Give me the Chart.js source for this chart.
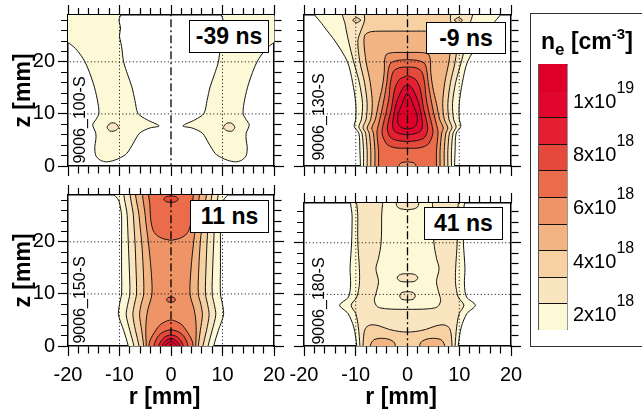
<!DOCTYPE html>
<html lang="en">
<head>
<meta charset="utf-8">
<title>Electron density n_e(r, z)</title>
<script src="https://cdn.jsdelivr.net/npm/chart.js@4.4.1/dist/chart.umd.min.js"></script>
<style>
  html, body { margin: 0; padding: 0; background: #fff; }
  body { width: 642px; height: 413px; position: relative; overflow: hidden;
         font-family: 'Liberation Sans', Arial, Helvetica, sans-serif; color: #000; }
  canvas { position: absolute; left: 0; top: 0; }
  .tag { position: absolute; background: #fff; border: 1.5px solid #000; box-sizing: border-box;
         font-weight: bold; font-size: 23px; display: flex; align-items: center; justify-content: center; }
  .shot { position: absolute; font-size: 16px; line-height: 1; white-space: nowrap;
          transform: translate(-50%, -50%) rotate(-90deg); }
  #legend { position: absolute; left: 530px; top: 13px; width: 130px; height: 334px;
            border: 1.5px solid #333; box-sizing: border-box; }
  #legendTitle { position: absolute; left: 541px; top: 30px; font-weight: bold; font-size: 23px;
                 line-height: 23px; white-space: nowrap; }
  #bar { position: absolute; left: 538px; top: 64px; width: 30px; height: 266px;
         border: 1px solid #555; border-right-color: #999; box-sizing: border-box; }
  .cell { position: absolute; left: 0; width: 100%; box-sizing: border-box; }
  .blab { position: absolute; left: 573px; font-size: 20px; line-height: 20px; white-space: nowrap; }
  .blab sup { font-size: 16px; line-height: 0; vertical-align: 15px; }
</style>
</head>
<body>
<canvas id="pTL" width="642" height="413"></canvas>
<canvas id="pTR" width="642" height="413"></canvas>
<canvas id="pBL" width="642" height="413"></canvas>
<canvas id="pBR" width="642" height="413"></canvas>

<div class="shot" style="left:79.5px;top:120px">9006_100-S</div>
<div class="shot" style="left:319px;top:117px">9006_130-S</div>
<div class="shot" style="left:79.5px;top:300px">9006_150-S</div>
<div class="shot" style="left:319px;top:301px">9006_180-S</div>

<div class="tag" style="left:189px;top:20px;width:80px;height:33px">-39 ns</div>
<div class="tag" style="left:426px;top:22px;width:80px;height:32px">-9 ns</div>
<div class="tag" style="left:190px;top:200px;width:79px;height:33px">11 ns</div>
<div class="tag" style="left:424px;top:207px;width:79px;height:33px">41 ns</div>

<div id="legend"></div>
<div id="legendTitle">n<sub style="font-size:17px;line-height:0;vertical-align:-6px">e</sub> [cm<sup style="font-size:15px;line-height:0;vertical-align:10px">-3</sup>]</div>
<div id="bar"></div>

<script>
// ---- density bands (lower edge of each band, in 10^18 cm^-3) ----
const bandEdges = [1, 2, 3, 4, 5, 6, 7, 8, 9, 10, 11];
const bandColors = ['#FDF8D5', '#F9E6C0', '#F7D1A2', '#F3B483', '#EF9467',
                    '#EA6C4B', '#E4493A', '#E31F30', '#E0062E', '#DE0029'];
// colour-bar labels: value (10^18 cm^-3), mantissa, exponent
const barLabelValues = [10, 8, 6, 4, 2];
const barMantissas  = ['1', '8', '6', '4', '2'];
const barExponents  = ['19', '18', '18', '18', '18'];

// axis tick labels
const rLabelValues = [-20, -10, 0, 10, 20];
const zLabelValues = [0, 10, 20];
// reference lines drawn over the maps
const dottedR = [-10, 10];
const dottedZ = [10, 20];
const axisR = 0;

// ---- contours: [r, z] in mm ----
// "half": right half from the axis back to the axis, mirrored to r<0
// "pair": closed outline at r>0, repeated as its mirror image at r<0

// -39 ns
const m39_lvl1 = [[9.8,31],[9.8,29],[10.1,28],[9.8,26.5],[10.0,25],[9.6,23],[9.2,20],[8.4,17.5],[7.6,15.2],[7.0,12.6],[6.4,10.1],[4.7,8.9],[2.3,7.7],[4.1,7.3],[6.1,6.3],[7.3,4.4],[8.6,2.4],[9.8,1.6],[11.0,1.1],[12.5,0.8],[13.7,1.1],[14.6,2.0],[14.8,3.7],[14.6,5.0],[14.6,6.3],[15.2,7.9],[14.6,8.9],[14.0,10.1],[14.3,12.7],[15.1,15.9],[16.7,20],[18.5,22.5],[20.2,23.8],[21.5,24],[21.5,31]];
const m39_lvl2 = [[10.1,7.4],[10.8,6.8],[11.8,6.7],[12.4,7.4],[11.8,8.2],[10.8,8.2]];

// -9 ns
const m9_lvl1 = [[0,-1.5],[9.1,-1.5],[9.1,0],[9.2,3],[9.4,6.3],[10.3,7.6],[10.0,9],[10.0,12],[10.6,16],[11.6,20],[14.0,24],[16.3,27],[18.8,31],[0,31]];
const m9_lvl2 = [[0,-1.5],[8.5,-1.5],[8.5,0],[8.5,3],[8.8,6.3],[9.4,7.5],[8.9,9],[8.7,12],[9.3,16],[10.4,20],[11.4,24],[12.0,27],[12.6,31],[0,31]];
const m9_lvl3 = [[0,-1.5],[7.8,-1.5],[7.8,0],[7.8,3],[8.1,6.3],[8.6,7.4],[8.0,9],[7.8,12],[8.3,16],[9.2,20],[9.6,24],[9.0,26],[8.3,28],[8.2,31],[0,31]];
const m9_lvl3b = [[9.0,28.0],[9.8,27.5],[10.6,28.0],[9.8,28.5]];
const m9_lvl4 = [[0,-1.5],[7.1,-1.5],[7.1,0],[7.1,3],[7.4,6.3],[7.8,7.3],[7.1,9],[6.8,12],[7.2,16],[8.0,20],[8.4,23.5],[8.2,25.2],[7.0,25.8],[3.5,25.9],[0,25.9]];
const m9_lvl5 = [[0,-1.5],[6.3,-1.5],[6.3,0],[6.3,3],[6.6,6.3],[6.9,7.3],[6.2,9],[5.6,12],[4.9,15],[4.5,18],[4.4,20.5],[4.0,21.5],[2.5,21.8],[0,21.8]];
const m9_lvl6 = [[0,0.8],[1.1,0.65],[1.6,0.2],[1.7,-1.5],[5.6,-1.5],[5.6,0],[5.6,3],[5.9,6.5],[5.6,8],[5.1,10],[4.5,13],[4.0,16],[3.7,18.5],[3.2,19.8],[1.8,20.3],[0,20.4]];
const m9_lvl7 = [[0,3.4],[2.4,3.5],[4.0,4.2],[4.9,6.2],[4.7,8],[4.2,10],[3.6,13],[3.3,16],[2.7,18.2],[1.5,18.9],[0,19.0]];
const m9_lvl8 = [[0,4.7],[2.0,4.9],[3.3,5.5],[3.9,7],[3.6,9],[3.1,11],[2.8,13],[2.4,15],[1.6,16.6],[0.7,17.1],[0,17.3]];
const m9_lvl9 = [[0,6.0],[1.5,6.2],[2.6,6.8],[2.9,8],[2.6,10],[2.2,12],[1.4,14],[0.7,15.2],[0,15.6]];
const m9_lvl10 = [[0,7.1],[1.0,7.3],[1.7,7.9],[1.9,8.8],[1.8,10],[1.3,11.3],[0.8,12.6],[0.4,13.5],[0,14.0]];

// 11 ns
const p11_lvl1 = [[0,-1.5],[8.2,-1.5],[8.3,0],[9.2,3],[10.2,6],[10.0,8],[9.6,10],[9.6,15],[9.6,20],[9.6,25],[9.8,26.5],[10.2,28],[11.2,29.1],[13,29.6],[14,31],[0,31]];
const p11_lvl2 = [[0,-1.5],[7.1,-1.5],[7.2,0],[8.0,3],[8.7,6],[8.4,8],[8.0,10],[8.1,15],[8.3,20],[8.5,25],[8.8,31],[0,31]];
const p11_lvl3 = [[0,-1.5],[6.1,-1.5],[6.2,0],[6.9,3],[7.4,6],[7.1,8],[6.7,10],[6.8,15],[7.0,20],[7.3,25],[7.6,31],[0,31]];
const p11_lvl4 = [[0,-1.5],[5.2,-1.5],[5.3,0],[5.7,3],[6.1,6],[5.8,8],[5.3,10],[5.4,15],[5.7,20],[6.2,25],[6.6,31],[0,31]];
const p11_lvl5 = [[0,-1.5],[4.8,-1.5],[4.8,0],[4.9,3],[4.8,5],[4.5,7],[3.7,10],[3.9,15],[4.4,20],[5.0,25],[5.2,31],[0,31]];
const p11_lvl6top = [[0,20.3],[1.5,20.6],[2.8,21.3],[3.5,22.3],[3.9,24],[4.1,27],[4.2,31],[0,31]];
const p11_lvl6bot = [[0,-1.5],[4.4,-1.5],[4.3,0],[4.1,1],[3.6,2],[2.9,3.1],[2.2,4.0],[1.3,4.6],[0,5.0]];
const p11_lvl6mid = [[0,8.4],[0.6,8.5],[0.85,8.9],[0.6,9.3],[0,9.4]];
const p11_lvl7 = [[0,-1.5],[3.4,-1.5],[3.3,0],[3.0,1],[2.4,2],[1.5,2.7],[0,3.1]];
const p11_lvl7top = [[0,27.6],[0.9,27.7],[1.4,28.2],[0.9,28.7],[0,28.8]];
const p11_lvl8 = [[0,-1.5],[2.5,-1.5],[2.4,0],[1.9,1],[1.1,1.8],[0,2.1]];
const p11_lvl9 = [[0,-1.5],[1.8,-1.5],[1.7,0],[1.2,0.8],[0,1.5]];
const p11_lvl10 = [[0,-1.5],[1.2,-1.5],[1.1,0],[0.6,0.6],[0,0.9]];

// 41 ns
const p41_lvl1 = [[0,-1.5],[9.8,-1.5],[9.8,0],[10.4,3.7],[11.5,6.3],[13.1,7.9],[11.4,9.5],[11.0,12],[11.1,15],[10.8,20],[10.7,25],[10.7,31],[0,31]];
const p41_lvl2 = [[0,-1.5],[9.2,-1.5],[9.2,0],[9.5,3.7],[10.0,6.3],[10.9,7.9],[9.8,9.5],[9.3,12],[9.3,15],[9.6,20],[9.6,25],[9.6,31],[5.1,31],[5.0,25],[5.1,20],[5.6,17],[6.1,15],[5.6,12.5],[6.0,10.5],[6.4,8.8],[5.8,7.6],[4.0,7.2],[0,7.1]];
const p41_lvl2a = [[0,12.4],[1.4,12.55],[2.0,13.2],[1.4,13.85],[0,14.0]];
const p41_lvl2b = [[0,8.9],[1.1,9.05],[1.5,9.7],[1.1,10.35],[0,10.5]];
const p41_lvl2c = [[0,26.4],[1.4,26.6],[2.1,27.2],[2.3,31],[0,31]];
const p41_lvl3 = [[0,-1.5],[8.6,-1.5],[8.6,0],[8.4,2.5],[8.0,3.6],[7.0,4.1],[5.5,3.9],[3.5,3.2],[1.5,2.8],[0,2.7]];
const p41_lvl4 = [[2.3,-1],[2.5,0.6],[3.6,1.3],[5.0,1.5],[6.3,1.3],[7.0,0.6],[7.2,-1]];

// [band level, kind, outline]
const mapM39 = [[1,'pair',m39_lvl1],[2,'pair',m39_lvl2]];
const mapM9 = [[1,'half',m9_lvl1],[2,'half',m9_lvl2],[3,'half',m9_lvl3],[3,'pair',m9_lvl3b],[4,'half',m9_lvl4],
               [5,'half',m9_lvl5],[6,'half',m9_lvl6],[7,'half',m9_lvl7],[8,'half',m9_lvl8],[9,'half',m9_lvl9],[10,'half',m9_lvl10]];
const mapP11 = [[1,'half',p11_lvl1],[2,'half',p11_lvl2],[3,'half',p11_lvl3],[4,'half',p11_lvl4],[5,'half',p11_lvl5],
                [6,'half',p11_lvl6top],[6,'half',p11_lvl6bot],[6,'half',p11_lvl6mid],[7,'half',p11_lvl7],[7,'half',p11_lvl7top],
                [8,'half',p11_lvl8],[9,'half',p11_lvl9],[10,'half',p11_lvl10]];
const mapP41 = [[1,'half',p41_lvl1],[2,'half',p41_lvl2],[2,'half',p41_lvl2a],[2,'half',p41_lvl2b],[2,'half',p41_lvl2c],
                [3,'half',p41_lvl3],[4,'pair',p41_lvl4]];

// ---- helpers ----
const FONT = "'Liberation Sans', Arial, Helvetica, sans-serif";
const xy = pts => pts.map(([r, z]) => ({x: r, y: z}));
const closed = list => list.concat([list[0]]);

function outlines(kind, pts) {
  if (kind === 'half') {
    const right = xy(pts);
    const left = pts.slice(1, -1).reverse().map(([r, z]) => ({x: -r, y: z}));
    return [closed(right.concat(left))];
  }
  return [closed(xy(pts)), closed(xy(pts.map(([r, z]) => [-r, z])))];
}

function contourSets(map) {
  const sets = [];
  map.forEach(([lvl, kind, pts]) => {
    outlines(kind, pts).forEach(data => sets.push({
      data, showLine: true, fill: 'shape',
      backgroundColor: bandColors[lvl - 1], borderColor: '#151515', borderWidth: 1,
      pointRadius: 0, pointHoverRadius: 0, tension: 0.3, capBezierPoints: false,
      clip: 0, order: -lvl
    }));
  });
  return sets;
}

function guideSets() {
  const base = {showLine: true, fill: false, pointRadius: 0, borderColor: '#000', tension: 0, clip: 0, order: -100};
  const sets = [];
  dottedR.forEach(r => sets.push(Object.assign({}, base, {data: [{x: r, y: -1}, {x: r, y: 31}], borderWidth: 1, borderDash: [1, 2.5]})));
  dottedZ.forEach(z => sets.push(Object.assign({}, base, {data: [{x: -21, y: z}, {x: 21, y: z}], borderWidth: 1, borderDash: [1, 2.5]})));
  sets.push(Object.assign({}, base, {data: [{x: axisR, y: -1}, {x: axisR, y: 31}], borderWidth: 1.3, borderDash: [8, 3, 2, 3]}));
  return sets;
}

function axis(pos, min, max, labels, size, title) {
  const horizontal = pos === 'top' || pos === 'bottom';
  const minorDash = (pos === 'top' || pos === 'left') ? [0, 3, 7, 100] : [7, 100];
  const shown = horizontal ? rLabelValues : zLabelValues;
  return {
    type: 'linear', position: pos, axis: horizontal ? 'x' : 'y', min, max, z: 1,
    border: {display: true, color: '#000', width: 1.5},
    grid: {
      display: true, drawOnChartArea: false, drawTicks: true, tickLength: 10,
      tickColor: '#000', tickWidth: 1.2,
      tickBorderDash: c => (c.tick && c.tick.value % 10 === 0) ? [] : minorDash
    },
    ticks: {
      display: labels, stepSize: 2, includeBounds: false, autoSkip: false, maxRotation: 0,
      font: {family: FONT, size: 20}, color: '#000', padding: horizontal ? 7.5 : 3,
      callback: v => shown.includes(v) ? String(v) : ''
    },
    title: title ? {display: true, text: title, color: '#000',
                    font: {family: FONT, size: 23, weight: 'bold'}, padding: {top: 0, bottom: 2}}
                 : {display: false},
    afterFit: s => { if (horizontal) s.height = size; else s.width = size; }
  };
}

function panel(id, map, zMax, pad, leftW, bottomH, zLabels, rLabels) {
  new Chart(document.getElementById(id), {
    type: 'scatter',
    data: {datasets: contourSets(map).concat(guideSets())},
    options: {
      responsive: false, animation: false, devicePixelRatio: 1, events: [],
      layout: {padding: pad, autoPadding: false},
      plugins: {legend: {display: false}, tooltip: {enabled: false}},
      scales: {
        x:  axis('bottom', -20, 20, rLabels, bottomH, rLabels ? 'r [mm]  ' : null),
        x2: axis('top', -20, 20, false, 12, null),
        y:  axis('left', 0, zMax, zLabels, leftW, zLabels ? 'z [mm]' : null),
        y2: axis('right', 0, zMax, false, 12, null)
      }
    }
  });
}

panel('pTL', mapM39, 29,   {left: 10,  top: 3,   right: 356, bottom: 235}, 58, 12, true,  false);
panel('pTR', mapM9,  29,   {left: 292, top: 3,   right: 119, bottom: 235}, 12, 12, false, false);
panel('pBL', mapP11, 29,   {left: 10,  top: 183, right: 356, bottom: 0},   58, 67, true,  true);
panel('pBR', mapP41, 27.7, {left: 292, top: 191, right: 119, bottom: 0},   12, 67, false, true);

// ---- colour bar ----
const bar = document.getElementById('bar');
const nBands = bandEdges.length - 1;
const cellH = 266 / nBands;
for (let i = 0; i < nBands; i++) {
  const c = document.createElement('div');
  c.className = 'cell';
  c.style.top = ((nBands - 1 - i) * cellH - 1) + 'px';
  c.style.height = (cellH + (i === nBands - 1 ? 1 : 0)) + 'px';
  c.style.background = bandColors[i];
  if (i < nBands - 1) c.style.borderTop = '1px solid #111';
  bar.appendChild(c);
}
barLabelValues.forEach((v, k) => {
  const edgeY = 64 + (bandEdges[nBands] - v) * cellH;
  const d = document.createElement('div');
  d.className = 'blab';
  d.style.top = (edgeY - 2.6) + 'px';
  d.innerHTML = barMantissas[k] + 'x10<sup>' + barExponents[k] + '</sup>';
  document.body.appendChild(d);
});
</script>
</body>
</html>
